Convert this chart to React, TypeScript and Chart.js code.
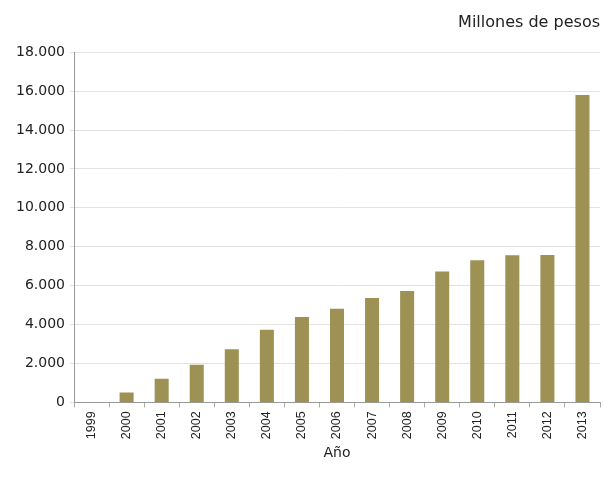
import React, { useEffect, useRef } from "react";
import { Chart, registerables } from "chart.js";

Chart.register(...registerables);

const years = ["1999","2000","2001","2002","2003","2004","2005","2006","2007","2008","2009","2010","2011","2012","2013"];
const values = [0, 510, 1220, 1940, 2730, 3740, 4390, 4810, 5370, 5720, 6730, 7300, 7560, 7580, 15800];
const unitLabel = "Millones de pesos";
const axisTitle = "Año";

function fmt(v: number) {
  return v.toString().replace(/\B(?=(\d{3})+(?!\d))/g, ".");
}

export default function App() {
  const ref = useRef<HTMLCanvasElement | null>(null);
  useEffect(() => {
    document.body.style.margin = "0";
    const ctx = ref.current!.getContext("2d")!;
    const chart = new Chart(ctx, {
      type: "bar",
      data: {
        labels: years,
        datasets: [
          {
            data: values,
            backgroundColor: "#9d9153",
            barPercentage: 0.4,
            categoryPercentage: 1,
          },
        ],
      },
      options: {
        animation: false,
        responsive: false,
        maintainAspectRatio: false,
        layout: { padding: { left: 0, right: 4, top: 0, bottom: 27 } },
        plugins: {
          legend: { display: false },
          tooltip: { enabled: false },
          title: {
            display: true,
            text: unitLabel,
            align: "end",
            color: "#222",
            font: { family: "DejaVu Sans", size: 16, weight: "normal" },
            padding: { top: 13, bottom: 20 },
          },
        },
        scales: {
          x: {
            offset: true,
            grid: { display: true, drawOnChartArea: false, drawTicks: true, tickLength: 5, offset: true, color: "#aaa" },
            border: { color: "#999" },
            ticks: {
              minRotation: 90,
              maxRotation: 90,
              color: "#222",
              font: { family: "Liberation Sans, Arial", size: 12.5 },
              padding: 4,
            },
            title: {
              display: true,
              text: axisTitle,
              color: "#222",
              font: { family: "DejaVu Sans", size: 14 },
              padding: { top: 2, bottom: 0 },
            },
          },
          y: {
            min: 0,
            max: 18000,
            afterFit: (s: any) => { s.width = 74; },
            ticks: {
              stepSize: 2000,
              color: "#222",
              font: { family: "DejaVu Sans", size: 14 },
              padding: 5,
              callback: (v: any) => fmt(Number(v)),
            },
            grid: { color: "#e2e2e2", drawTicks: true, tickLength: 4 },
            border: { color: "#999" },
          },
        },
      },
    });
    return () => chart.destroy();
  }, []);
  return (
    <div style={{ width: 604, height: 489 }}>
      <canvas ref={ref} width={604} height={489} style={{ display: "block" }} />
    </div>
  );
}
